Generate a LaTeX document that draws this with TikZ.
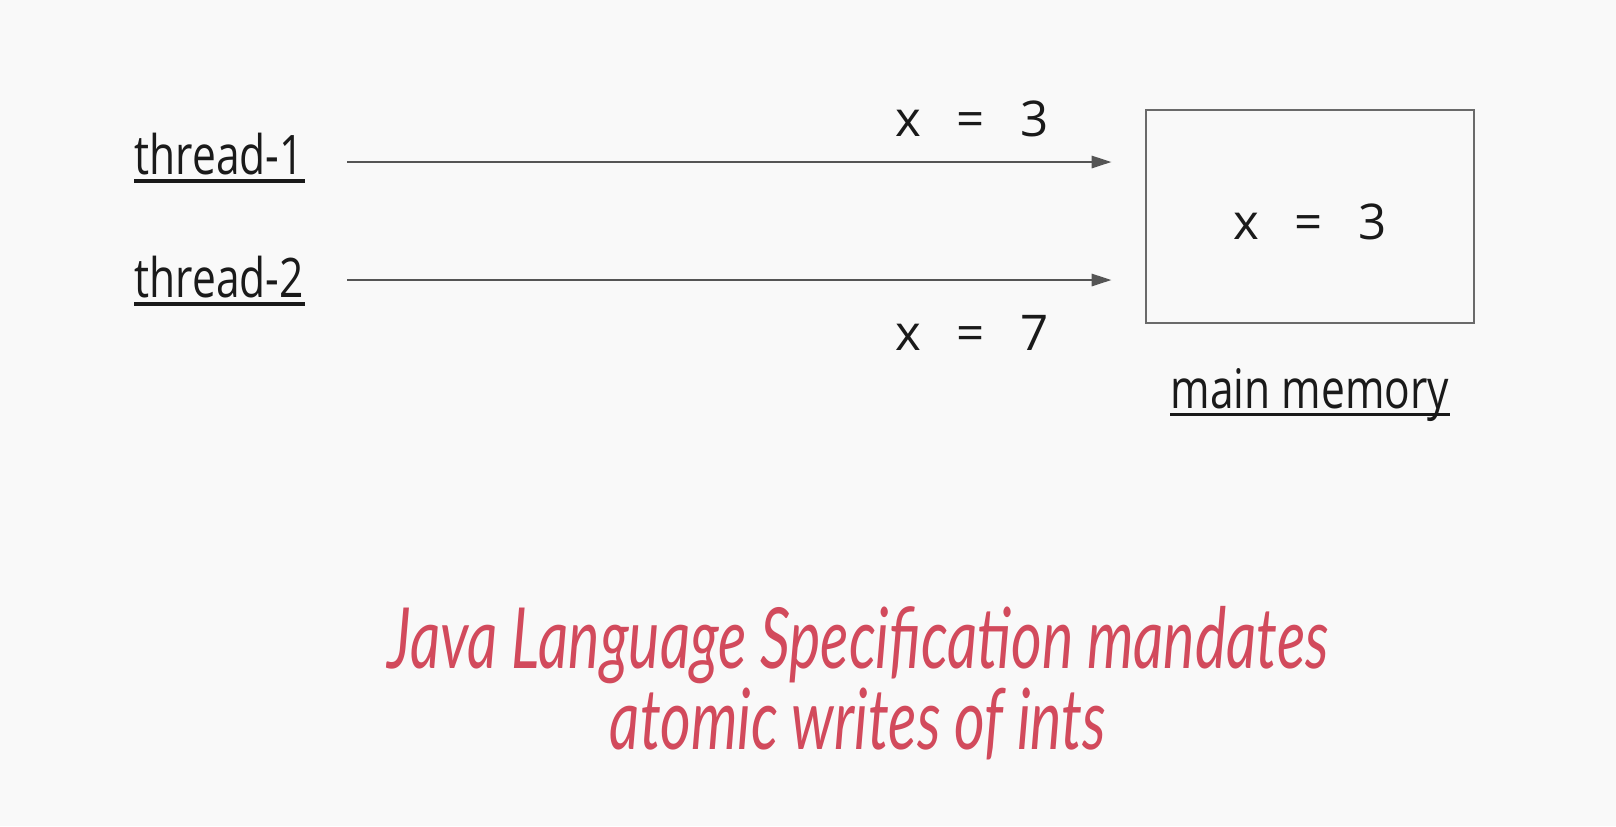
\documentclass[tikz,border=0pt]{standalone}
\usepackage{fontspec}
\usetikzlibrary{arrows.meta,positioning}
\setmainfont{Open Sans}
\newfontfamily\condfont[FakeStretch=0.78]{Open Sans}
\newfontfamily\notefont[FakeStretch=0.7]{Lato}
\definecolor{bg}{HTML}{F9F9F9}
\definecolor{ink}{HTML}{1A1A1A}
\definecolor{wirecol}{HTML}{555555}
\definecolor{boxcol}{HTML}{6A6A6A}
\definecolor{notecol}{HTML}{D24A5C}
\newcommand{\eqsp}{\hspace{10pt}=\hspace{10pt}}

\begin{document}
\begin{tikzpicture}[x=0.01cm,y=-0.01cm,
  lbl/.style={font=\condfont\fontsize{15.5}{18}\selectfont,text=ink,inner sep=0,anchor=base west},
  val/.style={font=\fontsize{14}{16}\selectfont,text=ink,inner sep=0,anchor=base},
  wire/.style={draw=wirecol,line width=0.8pt,-{Triangle[length=2mm,width=1.2mm]},shorten >=0.33cm},
  uline/.style={draw=ink,line width=1pt}]
  \fill[bg] (0,0) rectangle (1616,826);
  \useasboundingbox (0,0) rectangle (1616,826);
  % threads
  \node[lbl] (t1) at (134,174) {thread-1};
  \node[lbl] (t2) at (134,297) {thread-2};
  \foreach \t in {t1,t2} {
    \draw[uline] ([yshift=-0.07cm]\t.base west) -- ([yshift=-0.07cm]\t.base east);
  }
  % memory
  \node[draw=boxcol,line width=0.7pt,minimum width=3.28cm,minimum height=2.13cm,inner sep=0] (mem) at (1310,216.5) {};
  \node[val] (cell) at (1310,239) {x\eqsp3};
  \node[lbl,anchor=base] (mlbl) at ([yshift=-0.84cm]mem.south) {main memory};
  \draw[uline] ([yshift=-0.06cm]mlbl.base west) -- ([yshift=-0.06cm]mlbl.base east);
  % writes
  \coordinate (s1) at (347,162);
  \coordinate (s2) at (347,280);
  \foreach \s in {s1,s2} {
    \draw[wire] (\s) -- (\s -| mem.west);
  }
  \node[val] (w1) at (972,136) {x\eqsp3};
  \node[val] (w2) at (972,350) {x\eqsp7};
  % note
  \node[font=\notefont\itshape\fontsize{24}{23}\selectfont,text=notecol,align=center,inner sep=0,anchor=base] (note) at (858,749)
    {Java Language Specification mandates\\atomic writes of ints};
\end{tikzpicture}
\end{document}
